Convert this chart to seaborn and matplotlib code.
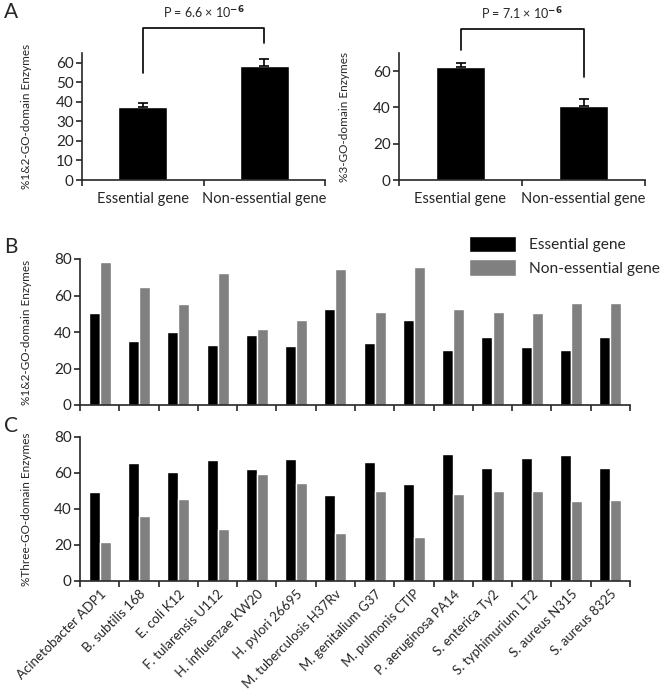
import numpy as np
import pandas as pd
import seaborn as sns
import matplotlib.pyplot as plt

###########################################################################
# data

a_groups = ['Essential gene', 'Non-essential gene']
a_12go = [37.3, 58.3]
a_12go_err = [2.3, 3.6]
a_3go = [62.2, 41.0]
a_3go_err = [2.4, 3.6]
a_pvalues = [r'P = 6.6 × 10$^{\mathbf{-6}}$', r'P = 7.1 × 10$^{\mathbf{-6}}$']

organisms = ['Acinetobacter ADP1', 'B. subtilis 168', 'E. coli K12',
             'F. tularensis U112', 'H. influenzae KW20', 'H. pylori 26695',
             'M. tuberculosis H37Rv', 'M. genitalium G37', 'M. pulmonis CTIP',
             'P. aeruginosa PA14', 'S. enterica Ty2', 'S. typhimurium LT2',
             'S. aureus N315', 'S. aureus 8325']
ess_12go = [50.5, 35.0, 39.9, 32.8, 38.3, 32.2, 52.4, 34.1, 46.5, 29.9, 37.4, 31.6, 29.9, 37.2]
non_12go = [78.5, 64.6, 55.5, 72.3, 41.8, 46.5, 74.5, 50.9, 75.6, 52.6, 50.9, 50.5, 56.0, 55.7]
ess_3go = [49.5, 65.3, 60.3, 67.3, 62.0, 67.7, 48.0, 66.0, 54.0, 70.3, 62.7, 68.5, 70.1, 62.7]
non_3go = [21.8, 35.9, 45.6, 28.7, 59.2, 54.3, 26.4, 50.2, 24.2, 48.2, 50.0, 50.2, 44.6, 45.0]

gene_types = ['Essential gene', 'Non-essential gene']

###########################################################################
# style

sns.set_theme(style='ticks')
plt.rcParams['font.family'] = ['Lato', 'DejaVu Sans']
plt.rcParams['axes.linewidth'] = 1.2

W, H = 662, 697


def fig_box(left, top, right, bottom):
    # pixel box -> figure fraction rect
    return [left / W, 1 - bottom / H, (right - left) / W, (bottom - top) / H]


def style_cat_axis(ax, n, ymax, yticks):
    ax.set_xlim(-0.5, n - 0.5)
    ax.set_ylim(0, ymax)
    ax.set_yticks(yticks)
    ax.set_xticks(np.arange(n))
    ax.set_xticks(np.arange(n + 1) - 0.5, minor=True)
    ax.tick_params(axis='x', which='major', length=0, pad=9, labelsize=10.5)
    ax.tick_params(axis='x', which='minor', length=4, width=1.2, direction='out')
    ax.tick_params(axis='y', length=4, width=1.2, direction='out', labelsize=11, pad=2)
    ax.set_xlabel('')
    sns.despine(ax=ax)


def bracket(ax, x0, x1, y0, y1, ytop, label, ylabel):
    ax.plot([x0, x0, x1, x1], [y0, ytop, ytop, y1], color='black', lw=1.2,
            clip_on=False)
    ax.text((x0 + x1) / 2, ylabel, label, ha='center', va='center', fontsize=9)


fig = plt.figure(figsize=(W / 100, H / 100), dpi=100)

###########################################################################
# panel A

ax_a1 = fig.add_axes(fig_box(82, 53, 325, 180))
sns.barplot(x=a_groups, y=a_12go, color='black', saturation=1, width=0.4, ax=ax_a1)
ax_a1.errorbar(range(2), a_12go, yerr=[np.zeros(2), a_12go_err], fmt='none',
               ecolor='black', elinewidth=1.2, capsize=3.5, capthick=1.2)
style_cat_axis(ax_a1, 2, 65, range(0, 61, 10))
ax_a1.set_ylabel('%1&2-GO-domain Enzymes', fontsize=8.5)
ax_a1.yaxis.set_label_coords(-50 / 243, 0.5)
bracket(ax_a1, 0, 1, 54.9, 70.3, 78, a_pvalues[0], 85.6)

ax_a2 = fig.add_axes(fig_box(399, 53, 645, 180))
sns.barplot(x=a_groups, y=a_3go, color='black', saturation=1, width=0.4, ax=ax_a2)
ax_a2.errorbar(range(2), a_3go, yerr=[np.zeros(2), a_3go_err], fmt='none',
               ecolor='black', elinewidth=1.2, capsize=3.5, capthick=1.2)
style_cat_axis(ax_a2, 2, 70, range(0, 61, 20))
ax_a2.set_ylabel('%3-GO-domain Enzymes', fontsize=8.5)
ax_a2.yaxis.set_label_coords(-49 / 246, 0.5)
bracket(ax_a2, 0, 1, 71.9, 56.5, 83.4, a_pvalues[1], 91.6)

###########################################################################
# panels B and C

df_b = pd.DataFrame({'organism': organisms * 2,
                     'pct': ess_12go + non_12go,
                     'gene': [gene_types[0]] * len(organisms) + [gene_types[1]] * len(organisms)})
df_c = pd.DataFrame({'organism': organisms * 2,
                     'pct': ess_3go + non_3go,
                     'gene': [gene_types[0]] * len(organisms) + [gene_types[1]] * len(organisms)})
palette = ['black', '#808080']

ax_b = fig.add_axes(fig_box(80, 259, 630, 405))
sns.barplot(data=df_b, x='organism', y='pct', hue='gene', palette=palette,
            saturation=1, width=0.56, ax=ax_b)
style_cat_axis(ax_b, len(organisms), 80, range(0, 81, 20))
ax_b.set_xticklabels([])
ax_b.set_ylabel('%1&2-GO-domain Enzymes', fontsize=8.5)
ax_b.yaxis.set_label_coords(-48 / 550, 0.5)
handles, labels = ax_b.get_legend_handles_labels()
ax_b.legend(handles, labels, loc='upper left', bbox_to_anchor=(469 / W, 1 - 236 / H),
            bbox_transform=fig.transFigure, frameon=False, fontsize=11.2,
            handlelength=3.0, handleheight=1.25, handletextpad=0.85,
            labelspacing=0.45, borderpad=0, borderaxespad=0)

ax_c = fig.add_axes(fig_box(80, 437, 630, 581))
sns.barplot(data=df_c, x='organism', y='pct', hue='gene', palette=palette,
            saturation=1, width=0.56, ax=ax_c, legend=False)
style_cat_axis(ax_c, len(organisms), 80, range(0, 81, 20))
ax_c.set_xticks(np.arange(len(organisms)))
ax_c.set_xticklabels(organisms, rotation=45, ha='right', rotation_mode='anchor',
                     fontsize=9.5)
ax_c.tick_params(axis='x', which='major', pad=5)
ax_c.set_ylabel('%Three-GO-domain Enzymes', fontsize=8.5)
ax_c.yaxis.set_label_coords(-48 / 550, 0.5)

###########################################################################
# panel letters

fig.text(4 / W, 1 - 12 / H, 'A', fontsize=15, va='center')
fig.text(4 / W, 1 - 247 / H, 'B', fontsize=15, va='center')
fig.text(4 / W, 1 - 426 / H, 'C', fontsize=15, va='center')

fig.savefig('out.png', dpi=100)
